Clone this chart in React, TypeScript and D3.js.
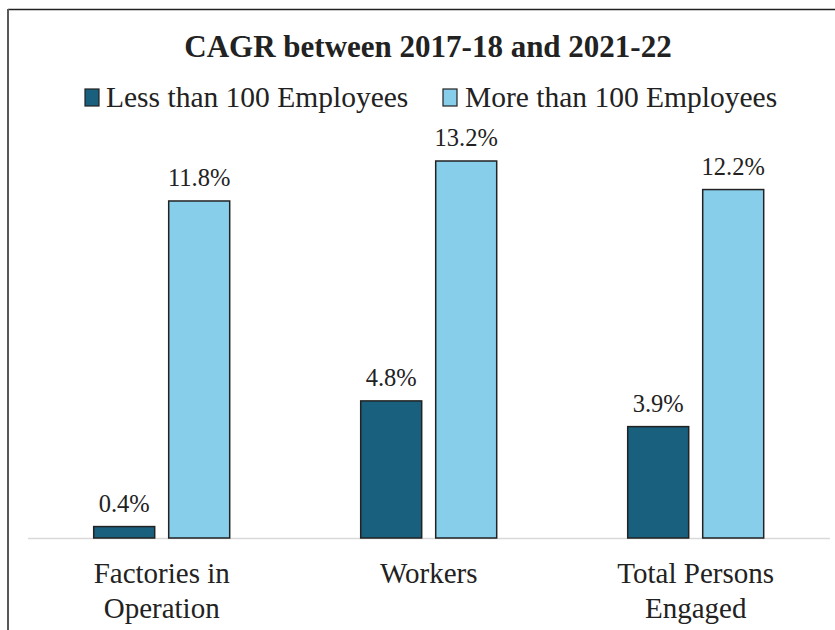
import React from "react";
import * as d3 from "d3";

const categories: string[][] = [["Factories in", "Operation"], ["Workers"], ["Total Persons", "Engaged"]];
const seriesNames = ["Less than 100 Employees", "More than 100 Employees"];
const lessThan100 = [0.4, 4.8, 3.9];
const moreThan100 = [11.8, 13.2, 12.2];
const seriesColors = ["#19607F", "#87CEEB"];
const title = "CAGR between 2017-18 and 2021-22";

const W = 835;
const H = 630;
const FONT = "Liberation Serif";

export default function App() {
  const baseY = 538;
  const x = d3.scaleBand<number>().domain([0, 1, 2]).range([28.2, 829.2]).paddingInner(0).paddingOuter(0);
  const y = d3.scaleLinear().domain([0, 13.2]).range([baseY, 161]);
  const barW = 61;
  const gap = 14;
  const series = [lessThan100, moreThan100];
  const ts = { fontFamily: FONT };

  return (
    <svg width={W} height={H} style={{ position: "absolute", left: 0, top: 0, background: "#fff", fontFamily: FONT }}>
      <rect x={0} y={0} width={W} height={H} fill="#fff" />
      <line x1={8} y1={9.5} x2={W} y2={9.5} stroke="#222" strokeWidth={1.5} />
      <line x1={8} y1={9} x2={8} y2={H} stroke="#595959" strokeWidth={2} />
      <text x={428} y={57} textAnchor="middle" fontSize={31} fontWeight="bold" fill="#222" style={ts}>{title}</text>
      {/* legend */}
      <g>
        <rect x={85} y={89} width={14} height={17} fill={seriesColors[0]} stroke="#222" strokeWidth={1.2} />
        <text x={106} y={107} fontSize={29.5} fill="#222" style={ts}>{seriesNames[0]}</text>
        <rect x={443} y={89} width={14} height={17} fill={seriesColors[1]} stroke="#222" strokeWidth={1.2} />
        <text x={465} y={107} fontSize={29.5} fill="#222" style={ts}>{seriesNames[1]}</text>
      </g>
      <line x1={28} y1={baseY + 0.5} x2={830} y2={baseY + 0.5} stroke="#d9d9d9" strokeWidth={1.5} />
      {categories.map((cat, i) => {
        const cx = (x(i) as number) + x.bandwidth() / 2;
        return (
          <g key={i}>
            {series.map((s, j) => {
              const bx = j === 0 ? cx - gap / 2 - barW : cx + gap / 2;
              const top = y(s[i]);
              return (
                <g key={j}>
                  <rect x={bx} y={top} width={barW} height={baseY - top} fill={seriesColors[j]} stroke="#222" strokeWidth={1.5} />
                  <text x={bx + barW / 2} y={top - 15} textAnchor="middle" fontSize={24.5} fill="#222" style={ts}>{s[i].toFixed(1)}%</text>
                </g>
              );
            })}
            {cat.map((line, k) => (
              <text key={k} x={cx} y={583 + k * 35} textAnchor="middle" fontSize={29} fill="#222" style={ts}>{line}</text>
            ))}
          </g>
        );
      })}
    </svg>
  );
}
